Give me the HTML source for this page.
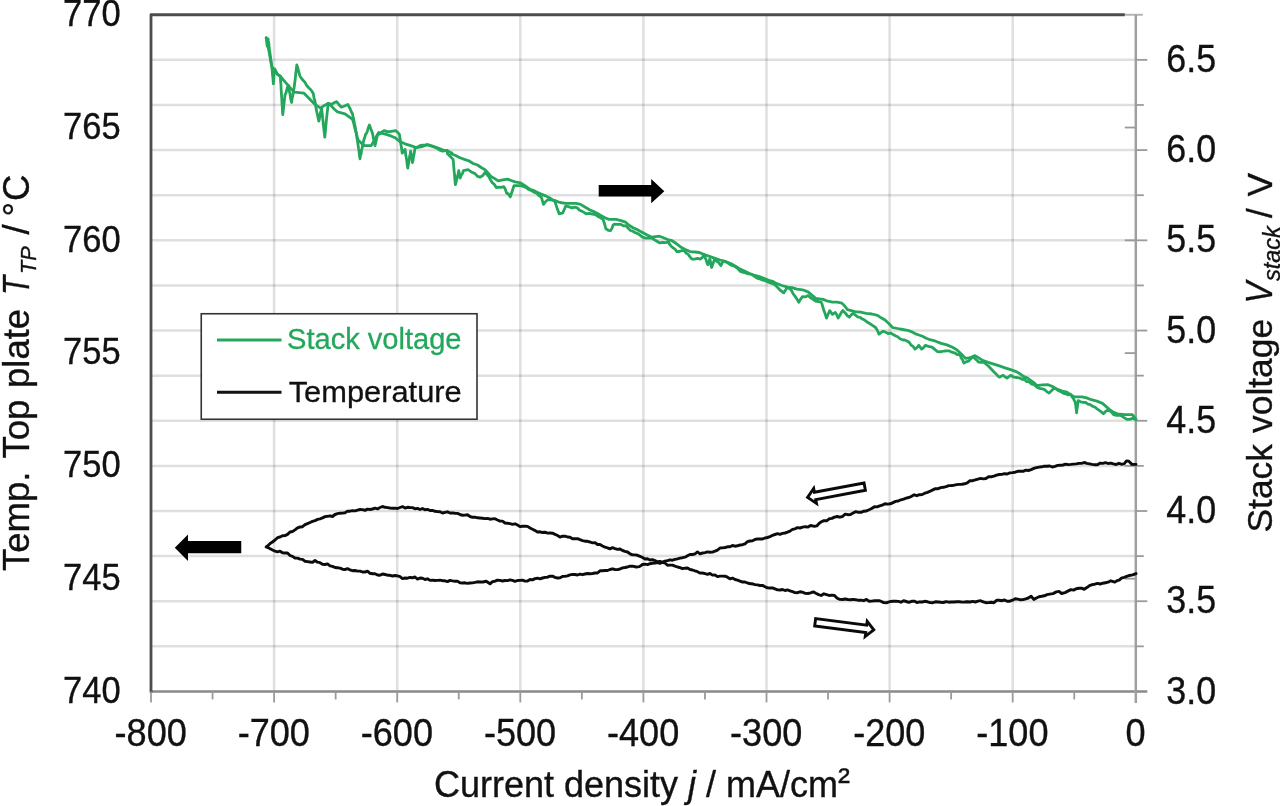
<!DOCTYPE html>
<html lang="en"><head><meta charset="utf-8"><title>Stack voltage and temperature vs current density</title>
<style>html,body{margin:0;padding:0;background:#fff;}body{width:1280px;height:806px;overflow:hidden;}svg{display:block;filter:blur(0.45px);}</style>
</head><body>
<svg width="1280" height="806" viewBox="0 0 1280 806">
<rect width="1280" height="806" fill="#fff"/>
<g stroke="#000" stroke-opacity="0.125" stroke-width="2.5" fill="none">
<line x1="151.0" y1="59.86" x2="1135.8" y2="59.86"/>
<line x1="151.0" y1="104.98" x2="1135.8" y2="104.98"/>
<line x1="151.0" y1="150.09" x2="1135.8" y2="150.09"/>
<line x1="151.0" y1="195.20" x2="1135.8" y2="195.20"/>
<line x1="151.0" y1="240.32" x2="1135.8" y2="240.32"/>
<line x1="151.0" y1="285.43" x2="1135.8" y2="285.43"/>
<line x1="151.0" y1="330.54" x2="1135.8" y2="330.54"/>
<line x1="151.0" y1="375.66" x2="1135.8" y2="375.66"/>
<line x1="151.0" y1="420.77" x2="1135.8" y2="420.77"/>
<line x1="151.0" y1="465.88" x2="1135.8" y2="465.88"/>
<line x1="151.0" y1="511.00" x2="1135.8" y2="511.00"/>
<line x1="151.0" y1="556.11" x2="1135.8" y2="556.11"/>
<line x1="151.0" y1="601.22" x2="1135.8" y2="601.22"/>
<line x1="151.0" y1="646.34" x2="1135.8" y2="646.34"/>
<line x1="274.10" y1="14.75" x2="274.10" y2="691.45"/>
<line x1="397.20" y1="14.75" x2="397.20" y2="691.45"/>
<line x1="520.30" y1="14.75" x2="520.30" y2="691.45"/>
<line x1="643.40" y1="14.75" x2="643.40" y2="691.45"/>
<line x1="766.50" y1="14.75" x2="766.50" y2="691.45"/>
<line x1="889.60" y1="14.75" x2="889.60" y2="691.45"/>
<line x1="1012.70" y1="14.75" x2="1012.70" y2="691.45"/>
</g>
<line x1="1124.8" y1="14.75" x2="1142.8" y2="14.75" stroke="#b4b4b4" stroke-width="2"/>
<line x1="150.0" y1="691.45" x2="1147.3" y2="691.45" stroke="#8a8a8a" stroke-width="2.4"/>
<line x1="1135.8" y1="14.75" x2="1135.8" y2="702.95" stroke="#a0a0a0" stroke-width="2.5"/>
<path d="M151.0,692.6500000000001 L151.0,14.75 L1124.8,14.75" fill="none" stroke="#4c4c4c" stroke-width="2.8" stroke-linejoin="round"/>
<g stroke="#9a9a9a" stroke-width="1.8">
<line x1="151.00" y1="691.45" x2="151.00" y2="702.45"/>
<line x1="212.55" y1="691.45" x2="212.55" y2="699.45"/>
<line x1="274.10" y1="691.45" x2="274.10" y2="702.45"/>
<line x1="335.65" y1="691.45" x2="335.65" y2="699.45"/>
<line x1="397.20" y1="691.45" x2="397.20" y2="702.45"/>
<line x1="458.75" y1="691.45" x2="458.75" y2="699.45"/>
<line x1="520.30" y1="691.45" x2="520.30" y2="702.45"/>
<line x1="581.85" y1="691.45" x2="581.85" y2="699.45"/>
<line x1="643.40" y1="691.45" x2="643.40" y2="702.45"/>
<line x1="704.95" y1="691.45" x2="704.95" y2="699.45"/>
<line x1="766.50" y1="691.45" x2="766.50" y2="702.45"/>
<line x1="828.05" y1="691.45" x2="828.05" y2="699.45"/>
<line x1="889.60" y1="691.45" x2="889.60" y2="702.45"/>
<line x1="951.15" y1="691.45" x2="951.15" y2="699.45"/>
<line x1="1012.70" y1="691.45" x2="1012.70" y2="702.45"/>
<line x1="1074.25" y1="691.45" x2="1074.25" y2="699.45"/>
<line x1="1135.8" y1="59.86" x2="1147.3" y2="59.86"/>
<line x1="1135.8" y1="104.98" x2="1143.8" y2="104.98"/>
<line x1="1135.8" y1="150.09" x2="1147.3" y2="150.09"/>
<line x1="1135.8" y1="195.20" x2="1143.8" y2="195.20"/>
<line x1="1135.8" y1="240.32" x2="1147.3" y2="240.32"/>
<line x1="1135.8" y1="285.43" x2="1143.8" y2="285.43"/>
<line x1="1135.8" y1="330.54" x2="1147.3" y2="330.54"/>
<line x1="1135.8" y1="375.66" x2="1143.8" y2="375.66"/>
<line x1="1135.8" y1="420.77" x2="1147.3" y2="420.77"/>
<line x1="1135.8" y1="465.88" x2="1143.8" y2="465.88"/>
<line x1="1135.8" y1="511.00" x2="1147.3" y2="511.00"/>
<line x1="1135.8" y1="556.11" x2="1143.8" y2="556.11"/>
<line x1="1135.8" y1="601.22" x2="1147.3" y2="601.22"/>
<line x1="1135.8" y1="646.34" x2="1143.8" y2="646.34"/>
<line x1="1124.8" y1="127.53" x2="1135.8" y2="127.53"/>
<line x1="1124.8" y1="240.32" x2="1135.8" y2="240.32"/>
<line x1="1124.8" y1="353.10" x2="1135.8" y2="353.10"/>
<line x1="1124.8" y1="465.88" x2="1135.8" y2="465.88"/>
<line x1="1124.8" y1="578.67" x2="1135.8" y2="578.67"/>
</g>
<path d="M1136.0,464.4 L1132.0,464.4 L1128.8,461.2 L1126.5,460.9 L1124.1,463.9 L1121.4,464.2 L1118.8,463.3 L1116.1,464.5 L1113.4,463.9 L1110.8,463.1 L1108.1,463.5 L1105.5,462.6 L1102.8,463.4 L1100.2,463.1 L1097.5,464.7 L1094.8,464.7 L1092.2,464.4 L1089.5,463.9 L1086.9,463.4 L1084.2,462.5 L1081.6,463.4 L1078.9,463.4 L1076.2,463.9 L1073.6,464.1 L1070.9,464.4 L1068.3,464.6 L1065.6,464.2 L1063.0,465.0 L1060.3,465.2 L1057.7,465.4 L1055.0,466.4 L1052.3,467.0 L1049.7,466.0 L1047.0,466.2 L1044.4,466.1 L1041.7,466.8 L1039.1,467.1 L1036.4,467.6 L1033.8,468.4 L1031.1,469.6 L1028.4,470.5 L1025.8,470.1 L1023.1,471.3 L1020.5,471.1 L1017.8,471.3 L1015.2,472.2 L1012.5,472.6 L1009.8,472.9 L1007.2,474.0 L1004.5,473.7 L1001.9,474.4 L999.2,474.5 L996.6,475.1 L993.9,476.1 L991.2,476.8 L988.6,476.8 L985.9,478.5 L983.3,478.9 L980.6,478.4 L978.0,479.1 L975.3,479.8 L972.7,480.7 L970.0,480.6 L967.3,482.9 L964.7,483.8 L962.0,484.3 L959.4,484.4 L956.7,484.6 L954.1,485.2 L951.4,485.5 L948.8,485.6 L946.1,486.6 L943.4,487.3 L940.8,487.6 L938.1,488.7 L935.5,488.6 L932.8,489.9 L930.2,491.2 L927.5,492.3 L924.8,493.2 L922.2,494.5 L919.5,494.7 L916.9,495.7 L914.2,494.8 L911.6,496.3 L908.9,497.5 L906.2,498.2 L903.6,499.1 L900.9,499.8 L898.3,501.0 L895.6,501.4 L893.0,502.6 L890.3,503.8 L887.7,504.1 L885.0,503.8 L882.3,505.1 L879.7,505.9 L877.0,506.9 L874.4,506.7 L871.7,508.5 L869.1,509.7 L866.4,511.0 L863.8,511.2 L861.1,512.3 L858.4,512.3 L855.8,511.6 L853.1,513.0 L850.5,514.5 L847.8,514.7 L845.2,514.1 L842.5,516.5 L839.8,517.2 L837.2,516.5 L834.5,517.1 L831.9,518.4 L829.2,518.8 L826.6,520.8 L823.9,520.7 L821.2,521.8 L819.0,523.5 L816.8,525.9 L814.6,526.3 L810.6,525.5 L808.0,527.1 L805.3,526.7 L802.7,527.2 L800.0,528.0 L797.5,527.6 L795.0,528.8 L792.5,529.4 L790.0,531.1 L787.5,532.2 L785.0,533.0 L782.5,533.4 L780.0,534.3 L777.5,533.7 L775.0,534.5 L772.5,535.3 L770.0,536.7 L767.5,537.5 L765.0,538.0 L762.5,539.0 L760.0,539.0 L757.5,538.9 L755.0,539.5 L752.5,540.8 L750.0,541.0 L747.5,541.7 L745.0,543.8 L742.5,544.7 L740.0,545.0 L737.5,545.8 L735.0,546.2 L732.5,545.5 L730.0,546.7 L727.5,546.8 L725.0,547.5 L722.5,547.9 L720.0,548.0 L717.5,550.1 L715.0,551.2 L712.5,552.1 L710.0,552.2 L707.5,551.9 L705.0,552.6 L702.5,553.0 L700.0,553.8 L697.5,551.9 L695.0,553.8 L692.5,554.5 L690.0,554.5 L687.5,555.8 L685.0,557.2 L682.5,557.7 L680.0,558.1 L677.5,558.8 L675.0,559.4 L672.5,560.2 L670.0,559.9 L667.5,560.7 L665.0,561.2 L662.5,562.2 L660.0,563.3 L657.5,562.5 L655.0,563.0 L652.5,563.3 L650.0,563.7 L647.5,564.7 L645.0,564.2 L642.5,564.5 L639.4,566.6 L636.2,567.0 L632.5,566.2 L630.0,566.1 L627.5,567.0 L625.0,567.5 L622.5,567.9 L620.0,569.0 L617.5,569.6 L615.0,569.5 L612.5,568.8 L610.0,569.5 L607.5,570.5 L605.0,570.5 L602.5,570.7 L600.0,570.8 L597.5,573.0 L595.0,573.0 L592.5,573.5 L590.0,573.8 L587.5,573.5 L585.0,574.0 L582.5,574.7 L580.0,574.1 L577.5,575.0 L575.0,574.5 L572.5,574.4 L570.0,574.9 L567.5,575.9 L565.0,576.2 L562.5,576.4 L560.0,577.8 L557.5,578.0 L555.0,577.3 L552.5,576.2 L550.0,576.1 L547.5,577.2 L545.0,577.4 L542.5,578.0 L540.0,578.8 L537.5,578.2 L535.0,578.6 L532.5,579.9 L530.0,579.5 L527.5,581.0 L525.0,581.1 L522.5,580.1 L520.0,580.4 L517.5,580.5 L515.0,581.4 L512.5,580.4 L510.0,579.9 L507.5,580.6 L505.0,580.5 L502.5,581.0 L500.0,580.4 L497.5,580.1 L495.0,581.2 L492.5,581.6 L490.0,583.8 L486.2,581.2 L483.1,582.0 L480.0,582.0 L477.5,581.8 L475.0,582.4 L472.5,582.9 L470.0,583.0 L467.5,583.4 L465.0,582.8 L462.5,583.0 L460.0,582.7 L457.5,581.3 L455.0,581.2 L452.5,580.9 L450.0,580.4 L447.5,581.6 L445.0,580.8 L442.5,580.7 L440.0,580.2 L437.5,580.4 L435.0,580.5 L432.5,580.1 L430.0,580.4 L427.5,578.8 L425.0,579.5 L422.5,578.3 L420.0,578.0 L417.5,579.1 L415.0,577.0 L412.5,577.8 L410.0,577.4 L407.5,578.2 L405.0,578.0 L402.5,578.6 L400.0,576.6 L397.5,575.9 L395.0,575.5 L392.5,576.0 L390.0,575.3 L387.5,575.2 L385.0,574.5 L382.5,574.0 L380.0,575.3 L377.5,575.0 L375.0,573.8 L372.5,573.7 L370.0,573.3 L367.5,571.2 L365.0,572.0 L362.5,572.0 L360.0,571.1 L357.5,571.1 L355.0,570.5 L352.5,570.7 L350.0,569.8 L347.5,568.7 L345.0,569.5 L342.5,569.2 L340.0,568.1 L337.5,567.8 L335.0,567.5 L332.5,566.4 L330.0,565.8 L327.5,563.9 L325.0,564.5 L322.5,564.2 L320.0,562.7 L317.5,562.2 L315.0,560.5 L312.5,562.4 L310.0,562.0 L307.5,561.6 L305.0,561.2 L302.5,559.4 L300.0,559.1 L297.5,558.1 L295.0,558.0 L292.5,556.4 L290.0,555.5 L287.5,553.0 L285.0,553.0 L282.5,552.8 L280.0,551.2 L277.5,551.9 L275.0,551.2 L272.1,549.8 L269.2,548.2 L266.2,547.0 L268.3,545.3 L270.4,543.3 L272.5,542.0 L275.0,540.0 L277.5,537.7 L280.0,537.0 L282.5,535.7 L285.0,535.6 L287.5,534.4 L290.0,532.0 L292.5,531.5 L295.0,529.9 L297.5,527.8 L300.0,527.0 L302.5,526.7 L305.0,524.7 L307.5,523.6 L310.0,522.5 L312.5,521.4 L315.0,520.7 L317.5,519.4 L320.0,518.8 L322.5,517.9 L325.0,516.6 L327.5,516.3 L330.0,515.8 L332.5,516.5 L335.0,514.5 L337.5,513.7 L340.0,513.2 L342.5,513.1 L345.0,512.7 L347.5,511.1 L350.0,511.2 L352.5,510.7 L355.0,510.9 L357.5,510.1 L360.0,509.5 L362.5,509.6 L365.0,510.4 L367.5,509.1 L370.0,509.5 L372.5,509.0 L375.0,508.2 L377.5,508.9 L380.0,507.5 L382.5,506.5 L385.0,507.3 L387.5,507.6 L390.0,508.0 L392.5,508.3 L395.0,508.1 L397.5,508.5 L400.0,507.5 L402.5,506.6 L405.0,508.0 L407.5,507.3 L410.0,507.5 L412.5,507.6 L415.0,508.8 L417.5,508.4 L420.0,509.5 L422.5,508.5 L425.0,509.8 L427.5,509.4 L430.0,510.5 L432.5,510.4 L435.0,511.3 L437.5,511.6 L440.0,511.8 L442.5,513.0 L445.0,512.3 L447.5,511.8 L450.0,513.0 L452.5,512.9 L455.0,513.2 L457.5,513.4 L460.0,514.5 L462.5,515.3 L465.0,515.1 L467.5,514.8 L470.0,516.5 L472.5,517.3 L475.0,517.2 L477.5,517.8 L480.0,518.0 L482.5,518.2 L485.0,518.6 L487.5,518.4 L490.0,519.2 L492.5,518.9 L495.0,518.8 L497.5,520.0 L500.0,521.1 L502.5,521.1 L505.0,523.0 L507.5,523.3 L510.0,523.6 L512.5,524.3 L515.0,523.8 L517.5,525.0 L520.0,526.6 L522.5,526.3 L525.0,526.1 L527.5,526.4 L530.0,528.0 L532.5,529.2 L535.0,530.6 L537.5,532.0 L540.0,531.8 L542.5,532.5 L545.0,532.2 L547.5,533.1 L550.0,533.0 L552.5,533.2 L555.0,534.3 L557.5,535.5 L560.0,537.1 L562.5,536.2 L565.0,536.1 L567.5,537.0 L570.0,537.2 L572.5,538.7 L575.0,538.8 L577.5,538.7 L580.0,539.7 L582.5,540.6 L585.0,541.2 L587.5,541.3 L590.0,542.0 L592.5,542.9 L595.0,542.6 L597.5,544.5 L600.0,544.5 L602.5,546.0 L605.0,547.1 L607.5,547.8 L610.0,548.8 L612.5,547.7 L615.0,548.6 L617.5,549.4 L620.0,549.0 L622.5,550.5 L625.0,551.3 L627.5,552.0 L630.0,553.8 L632.5,554.9 L635.0,554.9 L637.5,555.3 L640.0,556.3 L642.5,557.5 L645.0,559.0 L647.5,558.8 L650.0,560.0 L652.5,559.6 L655.0,560.5 L657.5,561.7 L660.0,561.4 L662.5,562.3 L665.0,563.0 L667.5,565.3 L670.0,565.1 L672.5,565.1 L675.0,566.1 L677.5,567.0 L680.0,567.7 L682.5,568.7 L685.0,568.2 L687.5,568.0 L690.0,569.5 L692.5,570.0 L695.0,570.9 L697.5,571.7 L700.0,573.1 L702.5,573.0 L705.0,573.6 L707.5,574.3 L710.0,573.5 L712.5,575.1 L715.0,575.0 L717.5,576.6 L720.0,576.1 L722.5,576.1 L725.0,576.2 L727.5,577.2 L730.0,578.9 L732.5,578.1 L735.0,579.5 L737.5,580.1 L740.0,581.2 L742.5,582.0 L745.0,582.0 L747.5,583.0 L750.0,583.7 L752.5,583.8 L755.0,584.6 L757.5,584.9 L760.0,585.5 L762.5,585.4 L765.0,586.7 L767.5,587.9 L770.0,588.0 L772.5,587.9 L775.0,588.9 L777.5,589.9 L780.0,590.0 L782.5,589.5 L785.0,590.5 L787.5,589.9 L790.0,590.8 L792.5,591.7 L795.0,592.6 L797.5,592.7 L800.0,591.8 L802.7,592.2 L805.3,593.4 L808.0,593.5 L810.6,592.8 L813.3,591.9 L815.9,593.3 L818.6,594.6 L821.2,595.5 L823.9,593.8 L826.6,594.6 L829.2,595.5 L831.9,595.1 L834.5,595.4 L837.2,598.2 L839.8,599.4 L842.5,599.5 L845.2,599.0 L847.8,599.5 L850.5,599.8 L853.1,599.4 L855.8,599.7 L858.4,600.3 L861.1,600.1 L863.8,600.7 L866.4,599.4 L869.1,601.2 L871.7,601.1 L874.4,600.8 L877.0,600.7 L879.7,600.7 L883.7,602.6 L887.0,602.7 L890.3,601.5 L893.0,601.2 L895.6,601.1 L898.3,601.4 L900.9,602.2 L903.6,600.7 L906.2,601.5 L908.9,602.3 L911.6,601.3 L914.2,601.1 L916.9,602.6 L919.5,601.9 L922.2,602.0 L924.8,601.3 L927.5,601.8 L930.2,602.6 L932.8,602.7 L935.5,601.8 L938.1,602.0 L940.8,602.3 L943.4,602.5 L946.1,601.6 L948.8,602.2 L951.4,602.0 L954.1,602.0 L956.7,601.7 L959.4,601.7 L962.0,602.1 L964.7,602.0 L967.3,601.7 L970.0,602.0 L972.7,601.4 L975.3,602.0 L978.0,601.2 L980.6,600.7 L983.3,601.9 L985.9,602.7 L988.6,602.6 L991.2,602.3 L993.9,602.7 L996.6,600.3 L999.2,600.2 L1001.9,600.7 L1004.5,600.0 L1007.2,601.3 L1009.8,601.2 L1012.5,600.2 L1015.2,598.7 L1017.8,599.1 L1020.5,599.8 L1023.1,599.6 L1025.8,598.8 L1028.4,598.0 L1031.1,596.2 L1033.8,599.4 L1036.4,598.0 L1039.1,596.7 L1041.7,596.3 L1044.4,595.8 L1047.0,594.7 L1049.7,594.1 L1053.0,593.6 L1056.3,591.9 L1059.0,591.4 L1061.6,593.5 L1065.0,592.6 L1068.3,590.9 L1070.9,589.6 L1073.6,590.1 L1076.2,588.7 L1078.9,588.2 L1081.6,588.2 L1084.2,589.3 L1086.9,587.6 L1089.5,585.6 L1092.2,584.6 L1094.8,584.2 L1097.5,583.4 L1100.2,584.0 L1102.8,583.2 L1105.5,582.7 L1108.1,582.2 L1110.8,580.8 L1114.8,582.1 L1117.0,580.7 L1119.2,580.1 L1121.4,578.1 L1124.1,577.3 L1126.7,576.3 L1129.4,575.5 L1132.7,574.9 L1136.0,573.6" fill="none" stroke="#0c0c0c" stroke-width="2.9" stroke-linejoin="round" stroke-linecap="round"/>
<path d="M266.2,37.8 L267.2,41.9 L268.1,46.9 L269.1,51.9 L270.0,56.9 L270.9,62.0 L271.9,66.9 L274.7,70.6 L277.5,74.4 L280.3,76.2 L285.0,81.9 L288.1,85.2 L291.2,89.1 L294.4,92.2 L299.1,92.7 L303.8,93.1 L309.4,98.8 L315.0,104.4 L320.6,108.1 L324.4,105.4 L328.1,103.4 L331.2,105.9 L334.4,109.3 L337.5,111.9 L345.0,113.8 L348.8,116.7 L352.5,119.4 L353.6,122.8 L354.8,128.1 L355.9,132.0 L357.0,136.3 L358.1,140.0 L363.8,145.6 L371.2,145.6 L373.8,141.1 L376.2,136.8 L378.8,132.5 L386.2,134.4 L390.9,135.9 L395.6,138.1 L400.3,141.8 L405.0,143.8 L410.6,145.6 L416.2,147.5 L421.9,146.6 L427.5,144.7 L433.1,146.3 L438.8,148.4 L443.1,150.1 L447.5,151.0 L451.9,153.1 L451.2,153.8 L455.6,155.5 L460.0,157.8 L464.4,159.4 L468.8,160.8 L473.1,163.5 L477.5,165.0 L481.2,167.5 L485.0,169.7 L487.8,172.6 L490.6,176.2 L494.4,178.4 L498.1,180.9 L502.8,179.8 L507.5,179.1 L511.2,180.5 L515.0,181.9 L520.6,182.8 L525.3,185.9 L530.0,189.4 L533.8,190.6 L537.5,192.4 L541.2,194.1 L545.0,195.6 L548.8,197.4 L552.5,199.7 L556.2,201.1 L560.0,202.5 L565.6,203.3 L571.2,203.4 L575.9,203.4 L580.6,204.4 L585.3,207.2 L590.0,210.0 L593.8,211.6 L597.5,213.4 L601.2,215.6 L605.0,217.8 L608.8,219.4 L616.2,219.4 L620.9,220.6 L625.6,222.2 L629.4,225.5 L633.1,227.8 L637.8,229.9 L642.5,232.5 L647.2,235.0 L651.9,237.2 L659.4,236.2 L664.1,238.0 L668.8,240.0 L671.2,240.3 L675.9,243.3 L680.6,246.9 L685.3,249.4 L690.0,251.6 L694.7,252.0 L699.4,252.5 L704.1,254.6 L708.8,256.2 L714.4,258.1 L720.0,260.0 L725.6,261.5 L731.2,263.8 L735.9,266.5 L740.6,269.4 L745.0,271.3 L749.4,273.5 L753.8,275.0 L759.4,276.6 L765.0,278.8 L768.8,280.3 L772.5,281.3 L776.2,283.4 L781.9,285.5 L787.5,287.2 L792.2,287.7 L796.9,289.1 L802.5,289.8 L808.1,291.9 L811.9,295.1 L815.6,298.4 L823.1,299.4 L827.8,301.2 L832.5,302.2 L837.2,302.1 L841.9,303.1 L844.7,306.0 L847.5,309.7 L855.0,311.6 L860.6,312.2 L866.2,313.4 L871.9,314.0 L877.5,315.3 L881.2,317.8 L885.0,320.0 L888.8,323.5 L892.5,327.5 L900.0,329.0 L907.5,330.3 L911.2,331.6 L915.0,333.6 L918.8,335.0 L922.5,336.3 L926.2,338.3 L930.0,339.7 L935.6,341.2 L941.2,343.4 L946.9,344.9 L952.5,347.2 L956.2,349.4 L960.0,352.8 L965.6,358.4 L970.3,357.7 L975.0,355.6 L978.8,357.9 L982.5,360.3 L988.1,362.3 L993.8,364.1 L999.4,365.9 L1005.0,367.8 L1010.6,369.7 L1016.2,371.6 L1020.0,373.8 L1023.8,376.6 L1027.5,378.1 L1030.6,380.3 L1033.8,382.6 L1036.9,385.6 L1042.5,384.8 L1048.1,384.7 L1052.8,386.6 L1057.5,389.4 L1062.2,391.0 L1066.9,392.2 L1070.6,394.8 L1074.4,396.9 L1081.9,396.9 L1086.6,397.9 L1091.2,399.7 L1096.9,401.1 L1102.5,403.4 L1106.2,406.6 L1110.0,410.0 L1113.8,412.4 L1117.5,413.8 L1125.0,414.7 L1132.5,414.7 L1135.9,419.4" fill="none" stroke="#24a75c" stroke-width="2.8" stroke-linejoin="round" stroke-linecap="round"/>
<path d="M266.2,37.8 L266.6,40.6 L266.9,43.6 L267.2,46.2 L267.5,43.6 L267.8,40.8 L268.1,38.8 L268.4,41.0 L268.8,43.3 L269.1,46.3 L269.4,49.4 L269.7,51.0 L270.0,53.8 L270.4,56.1 L270.8,59.2 L271.1,61.8 L271.5,64.3 L271.9,66.9 L272.1,69.2 L272.4,72.5 L272.6,75.7 L272.9,77.5 L273.1,80.7 L273.4,83.8 L273.6,80.3 L273.8,78.1 L274.0,75.3 L274.2,73.6 L274.5,70.6 L274.7,68.8 L276.1,71.7 L277.5,74.4 L280.3,76.2 L280.5,78.9 L280.6,81.3 L280.8,82.7 L281.0,86.2 L281.1,89.0 L281.3,91.7 L281.4,93.4 L281.6,96.5 L281.8,98.8 L281.9,101.5 L282.1,105.0 L282.3,106.6 L282.4,109.5 L282.6,112.6 L282.8,114.7 L283.1,111.6 L283.4,109.0 L283.7,106.3 L284.0,103.5 L284.4,100.0 L284.7,97.9 L285.0,95.0 L286.1,92.6 L287.2,88.0 L288.4,85.6 L288.9,88.9 L289.4,91.3 L290.0,93.7 L290.5,97.9 L291.0,100.1 L291.6,102.5 L292.0,99.1 L292.5,96.9 L293.0,94.4 L293.4,91.2 L293.9,88.8 L294.4,85.6 L294.7,83.0 L295.0,80.8 L295.3,78.6 L295.6,75.0 L295.9,72.8 L296.2,69.9 L296.5,67.6 L296.8,65.0 L297.6,67.2 L298.4,70.3 L299.2,73.3 L300.0,76.2 L302.3,79.5 L304.7,81.9 L306.6,85.3 L308.4,87.5 L310.8,89.7 L313.1,93.1 L313.6,95.3 L314.1,98.6 L314.7,99.8 L315.2,103.1 L315.7,105.9 L316.2,109.1 L316.7,111.4 L317.2,113.4 L317.7,116.0 L318.2,118.6 L318.8,121.2 L319.3,119.4 L319.9,115.8 L320.4,113.2 L321.0,110.9 L321.6,108.1 L321.9,110.7 L322.1,113.3 L322.4,115.5 L322.7,118.7 L323.0,121.1 L323.3,124.6 L323.6,126.9 L323.9,129.2 L324.2,132.2 L324.5,134.4 L324.8,137.2 L325.0,135.1 L325.3,132.0 L325.5,129.7 L325.8,126.2 L326.0,124.4 L326.3,120.8 L326.6,118.0 L326.8,116.3 L327.1,113.4 L327.3,111.3 L327.6,109.8 L327.9,105.6 L328.1,103.4 L331.9,104.4 L334.2,102.7 L336.6,101.6 L338.9,104.5 L341.2,107.2 L344.5,106.0 L347.8,104.4 L349.0,106.6 L350.2,109.0 L351.3,111.8 L352.5,113.8 L353.0,116.7 L353.6,118.6 L354.1,121.7 L354.6,124.5 L355.2,126.6 L355.7,130.0 L356.2,132.5 L356.6,134.7 L357.0,138.2 L357.4,140.5 L357.8,143.0 L358.1,145.3 L358.5,148.2 L358.9,149.9 L359.2,152.9 L359.6,156.3 L360.0,158.8 L360.5,155.0 L361.1,153.8 L361.6,149.8 L362.1,148.4 L362.7,144.9 L363.2,143.1 L363.8,140.0 L364.7,137.6 L365.6,134.2 L366.6,133.1 L367.5,130.7 L368.4,127.5 L369.4,125.0 L370.3,127.4 L371.2,129.9 L372.2,132.5 L372.8,134.6 L373.3,138.3 L373.9,140.1 L374.4,143.0 L375.0,145.6 L375.7,142.4 L376.4,139.7 L377.1,136.5 L377.8,134.4 L380.0,133.8 L382.2,131.8 L384.4,130.6 L387.2,131.6 L390.0,131.6 L392.8,131.1 L395.6,130.6 L397.5,132.2 L399.4,134.4 L399.8,136.9 L400.2,139.5 L400.6,142.4 L401.0,144.9 L401.4,147.6 L401.8,149.8 L402.2,153.1 L405.0,149.4 L405.4,151.7 L405.8,155.6 L406.2,157.1 L406.6,159.6 L407.0,162.9 L407.4,166.2 L407.8,168.1 L408.3,164.6 L408.8,162.4 L409.2,159.4 L409.7,156.0 L410.2,154.4 L410.6,151.2 L411.1,154.1 L411.6,156.9 L412.0,159.3 L412.5,162.5 L413.0,160.2 L413.4,157.2 L413.9,154.9 L414.4,151.9 L414.8,149.4 L415.3,147.5 L417.7,147.2 L420.0,145.6 L422.5,145.1 L425.0,145.1 L427.5,144.7 L430.0,145.6 L432.5,146.3 L435.0,147.5 L437.5,148.5 L440.0,150.3 L442.5,151.2 L447.2,150.3 L447.5,153.8 L449.4,155.5 L451.2,157.4 L453.1,159.4 L453.4,161.9 L453.6,165.0 L453.8,167.3 L454.0,169.7 L454.2,171.7 L454.5,173.9 L454.7,177.6 L454.9,180.1 L455.1,182.1 L455.4,184.7 L456.1,182.1 L456.7,179.5 L457.4,176.7 L458.1,173.9 L458.8,170.6 L459.2,172.9 L459.8,176.4 L460.2,178.1 L461.3,175.0 L462.4,173.6 L463.4,170.6 L468.1,169.7 L470.3,171.2 L472.5,172.6 L474.7,173.4 L477.5,176.3 L480.3,177.2 L482.7,175.6 L485.0,172.5 L486.9,174.4 L488.8,176.7 L490.6,180.0 L492.5,182.9 L494.4,184.5 L496.2,187.5 L498.8,187.2 L501.2,187.3 L503.8,186.6 L505.2,189.0 L506.6,193.1 L508.4,193.9 L510.3,196.9 L511.2,194.2 L512.2,191.3 L513.1,188.3 L514.1,185.6 L517.3,185.6 L520.6,185.6 L523.2,186.5 L525.9,187.5 L528.5,189.5 L531.1,190.4 L533.8,192.2 L536.2,192.9 L538.8,195.6 L541.2,196.9 L542.0,199.3 L542.8,202.1 L543.5,204.4 L545.7,201.5 L547.8,199.7 L551.1,199.8 L554.4,200.6 L555.3,202.8 L556.2,205.4 L557.2,208.6 L558.1,210.7 L559.1,213.8 L562.8,212.8 L564.2,209.7 L565.6,206.2 L568.8,206.7 L571.9,207.9 L575.0,207.2 L577.2,207.8 L579.5,210.3 L581.8,211.1 L584.0,212.4 L586.2,213.8 L589.4,213.3 L592.5,214.1 L595.6,214.7 L598.1,216.6 L600.6,217.8 L603.1,219.4 L604.1,222.5 L605.0,225.5 L605.9,228.8 L608.3,230.3 L610.6,230.6 L611.9,228.4 L613.1,225.1 L614.4,224.1 L617.5,224.3 L620.6,224.3 L623.8,225.9 L626.0,225.6 L628.2,228.3 L630.5,230.5 L632.8,231.2 L635.0,232.5 L637.5,233.5 L640.0,235.2 L642.5,237.2 L645.6,238.1 L648.8,237.9 L651.9,238.1 L654.4,239.7 L656.9,241.2 L659.4,242.8 L662.5,242.5 L665.6,242.6 L668.8,241.9 L669.4,244.1 L671.2,246.2 L673.1,247.9 L675.0,249.2 L676.9,251.6 L679.4,251.5 L681.9,250.6 L684.4,250.6 L686.2,253.3 L688.1,254.2 L690.0,256.9 L691.9,259.1 L694.7,259.1 L697.5,258.4 L700.3,259.1 L702.2,257.6 L704.1,254.4 L705.0,257.7 L705.9,259.3 L706.9,262.5 L707.8,264.7 L708.8,262.1 L709.7,259.1 L710.3,260.6 L710.9,264.8 L711.6,267.5 L712.5,265.0 L713.4,262.5 L714.4,260.0 L718.1,261.9 L720.9,265.6 L722.3,262.7 L723.8,260.9 L726.0,261.9 L728.2,263.1 L730.5,264.9 L732.8,265.6 L735.0,266.6 L737.5,268.4 L740.0,271.1 L742.5,272.2 L745.3,272.8 L748.1,273.9 L750.9,274.1 L753.8,275.9 L756.6,277.9 L759.4,278.8 L762.2,279.9 L765.0,280.6 L767.3,281.9 L769.7,282.6 L772.0,283.5 L774.4,284.4 L776.2,286.1 L778.1,288.0 L780.0,290.0 L783.8,292.8 L785.6,290.0 L787.5,287.2 L791.2,290.0 L792.8,293.2 L794.2,295.2 L795.8,297.3 L797.2,299.5 L798.8,302.2 L800.6,299.1 L802.5,296.6 L805.3,296.9 L808.1,295.6 L810.6,297.8 L813.1,299.4 L815.6,301.2 L818.4,301.5 L821.2,302.2 L822.1,304.3 L823.0,307.5 L823.9,310.6 L824.8,312.6 L825.6,315.4 L826.5,318.1 L827.6,315.5 L828.6,313.2 L829.7,310.6 L832.5,314.4 L835.3,312.5 L836.7,314.5 L838.1,318.1 L839.7,315.5 L841.2,312.7 L842.8,310.6 L845.6,313.4 L847.5,315.8 L849.4,317.2 L851.2,314.9 L853.1,313.4 L855.5,315.1 L857.8,317.0 L860.2,317.5 L862.5,319.1 L865.0,320.3 L867.5,322.3 L870.0,323.8 L872.8,325.6 L875.6,327.5 L877.3,330.3 L879.0,334.1 L883.1,331.2 L885.6,332.1 L888.1,333.5 L890.6,333.1 L893.0,334.4 L895.3,335.8 L897.7,336.8 L900.0,338.8 L902.3,339.8 L904.7,340.0 L907.0,341.0 L909.4,342.5 L911.2,345.3 L913.1,346.4 L915.0,349.1 L916.9,347.7 L918.8,345.3 L921.6,349.1 L923.4,347.9 L925.3,345.3 L928.6,346.4 L931.9,347.2 L934.4,349.0 L936.9,351.3 L939.4,351.9 L941.9,351.5 L944.4,351.0 L946.9,350.9 L949.4,350.9 L951.9,352.2 L954.4,352.8 L957.2,354.5 L960.0,354.7 L961.2,358.0 L962.5,359.8 L963.8,363.1 L966.1,361.8 L968.4,361.2 L970.8,358.7 L973.1,356.6 L975.0,358.6 L976.9,360.2 L978.8,362.2 L981.6,362.3 L984.4,362.2 L986.2,364.2 L988.1,365.8 L990.0,367.8 L991.9,369.7 L993.8,371.7 L995.6,373.4 L997.5,375.6 L999.4,377.2 L1003.1,375.3 L1006.9,378.1 L1010.6,375.3 L1013.8,377.2 L1016.9,377.5 L1020.0,378.1 L1022.2,379.3 L1024.5,379.5 L1026.8,381.7 L1029.0,381.7 L1031.2,383.8 L1034.1,384.6 L1036.9,387.3 L1039.7,388.4 L1044.4,389.4 L1046.7,391.6 L1049.1,393.1 L1051.4,390.7 L1053.8,388.4 L1056.1,388.8 L1058.4,390.6 L1060.8,391.6 L1063.1,393.1 L1065.6,393.8 L1068.1,394.9 L1070.6,394.1 L1072.2,397.0 L1073.8,399.3 L1075.3,402.5 L1075.6,404.5 L1076.0,407.6 L1076.3,410.1 L1076.6,412.8 L1077.0,409.2 L1077.4,406.8 L1077.8,403.1 L1078.1,400.6 L1080.6,401.8 L1083.1,402.4 L1085.6,402.5 L1088.0,404.2 L1090.3,404.6 L1092.7,406.3 L1095.0,407.2 L1097.1,408.8 L1099.2,410.3 L1101.3,411.9 L1103.4,413.8 L1105.8,411.2 L1108.1,410.0 L1110.9,411.6 L1113.8,414.7 L1116.2,415.4 L1118.8,415.2 L1121.2,415.6 L1124.1,417.6 L1126.9,419.4 L1129.7,419.4 L1132.5,418.4 L1135.9,419.4" fill="none" stroke="#24a75c" stroke-width="2.8" stroke-linejoin="round" stroke-linecap="round"/>
<polygon points="598.7,184.9 651.2,184.9 651.2,179.1 664.3,191.2 651.2,203.3 651.2,196.6 598.7,196.6" fill="#000"/>
<polygon points="241.25,541.1 188,541.1 188,534.5 174.8,547.7 188,561 188,553.2 241.25,553.2" fill="#000"/>
<polygon transform="translate(805.6,497.7) rotate(-10.6)" points="2.05,0 9.65,-7.6 9.65,-3.7 60.15,-3.7 60.15,3.7 9.65,3.7 9.65,7.6" fill="#fff" stroke="#0a0a0a" stroke-width="2.9"/>
<polygon transform="translate(875.8,630.1) rotate(187.4)" points="2.05,0 9.65,-7.6 9.65,-3.7 61.15,-3.7 61.15,3.7 9.65,3.7 9.65,7.6" fill="#fff" stroke="#0a0a0a" stroke-width="2.9"/>
<rect x="201.25" y="313.75" width="275.75" height="105.5" fill="#fff" stroke="#333" stroke-width="1.6"/>
<line x1="217" y1="340" x2="281.5" y2="340" stroke="#24a75c" stroke-width="3"/>
<line x1="217" y1="392.3" x2="281.5" y2="392.3" stroke="#111" stroke-width="3"/>
<text x="287" y="349.4" font-family="Liberation Sans, Arial, Helvetica, sans-serif" font-size="29.8" fill="#24a75c" stroke="#24a75c" stroke-width="0.3" textLength="174.5" lengthAdjust="spacingAndGlyphs">Stack voltage</text>
<text x="288.7" y="401.8" font-family="Liberation Sans, Arial, Helvetica, sans-serif" font-size="29.8" fill="#111" stroke="#111" stroke-width="0.3" textLength="173" lengthAdjust="spacingAndGlyphs">Temperature</text>
<g font-family="Liberation Sans, Arial, Helvetica, sans-serif" fill="#111" stroke="#111" stroke-width="0.35">
<text transform="translate(120.6,25.9) scale(0.94,1)" text-anchor="end" font-size="36.7">770</text>
<text transform="translate(120.6,138.7) scale(0.94,1)" text-anchor="end" font-size="36.7">765</text>
<text transform="translate(120.6,251.5) scale(0.94,1)" text-anchor="end" font-size="36.7">760</text>
<text transform="translate(120.6,364.3) scale(0.94,1)" text-anchor="end" font-size="36.7">755</text>
<text transform="translate(120.6,477.1) scale(0.94,1)" text-anchor="end" font-size="36.7">750</text>
<text transform="translate(120.6,589.9) scale(0.94,1)" text-anchor="end" font-size="36.7">745</text>
<text transform="translate(120.6,702.7) scale(0.94,1)" text-anchor="end" font-size="36.7">740</text>
<text transform="translate(1166.3,72.0) scale(0.925,1)" font-size="38.8">6.5</text>
<text transform="translate(1166.3,162.2) scale(0.925,1)" font-size="38.8">6.0</text>
<text transform="translate(1166.3,252.4) scale(0.925,1)" font-size="38.8">5.5</text>
<text transform="translate(1166.3,342.6) scale(0.925,1)" font-size="38.8">5.0</text>
<text transform="translate(1166.3,432.9) scale(0.925,1)" font-size="38.8">4.5</text>
<text transform="translate(1166.3,523.1) scale(0.925,1)" font-size="38.8">4.0</text>
<text transform="translate(1166.3,613.3) scale(0.925,1)" font-size="38.8">3.5</text>
<text transform="translate(1166.3,703.6) scale(0.925,1)" font-size="38.8">3.0</text>
<text transform="translate(150.7,746.2) scale(0.95,1)" text-anchor="middle" font-size="38">-800</text>
<text transform="translate(273.8,746.2) scale(0.95,1)" text-anchor="middle" font-size="38">-700</text>
<text transform="translate(396.9,746.2) scale(0.95,1)" text-anchor="middle" font-size="38">-600</text>
<text transform="translate(520.0,746.2) scale(0.95,1)" text-anchor="middle" font-size="38">-500</text>
<text transform="translate(643.1,746.2) scale(0.95,1)" text-anchor="middle" font-size="38">-400</text>
<text transform="translate(766.2,746.2) scale(0.95,1)" text-anchor="middle" font-size="38">-300</text>
<text transform="translate(889.3,746.2) scale(0.95,1)" text-anchor="middle" font-size="38">-200</text>
<text transform="translate(1012.4,746.2) scale(0.95,1)" text-anchor="middle" font-size="38">-100</text>
<text transform="translate(1135.5,746.2) scale(0.95,1)" text-anchor="middle" font-size="38">0</text>
</g>
<text x="434" y="797" font-family="Liberation Sans, Arial, Helvetica, sans-serif" font-size="36" fill="#111" stroke="#111" stroke-width="0.35">Current density <tspan font-style="italic">j</tspan> / mA/cm<tspan dy="-4">²</tspan></text>
<text transform="rotate(-90)" font-family="Liberation Sans, Arial, Helvetica, sans-serif" font-size="36.5" fill="#111" stroke="#111" stroke-width="0.35">
<tspan x="-571.0" y="29.0" >Temp. </tspan>
<tspan x="-458.5" y="29.0" >Top </tspan>
<tspan x="-388.0" y="29.0" >plate </tspan>
<tspan x="-295.0" y="29.0" font-style="italic" textLength="19" lengthAdjust="spacingAndGlyphs">T</tspan>
<tspan x="-274.0" y="36.3" font-style="italic" font-size="21.5">TP </tspan>
<tspan x="-234.5" y="29.0" >/ </tspan>
<tspan x="-216.5" y="29.0" >°</tspan>
<tspan x="-201.0" y="29.0" >C</tspan>
</text>
<text transform="rotate(-90)" font-family="Liberation Sans, Arial, Helvetica, sans-serif" font-size="35.4" fill="#111" stroke="#111" stroke-width="0.35">
<tspan x="-532.5" y="1271.8" >Stack </tspan>
<tspan x="-433.0" y="1271.8" >voltage </tspan>
<tspan x="-303.5" y="1271.8" font-style="italic" font-size="37" textLength="21.7" lengthAdjust="spacingAndGlyphs">V</tspan>
<tspan x="-281.0" y="1280.3" font-style="italic" font-size="23.5">stack </tspan>
<tspan x="-218.0" y="1271.8" >/ </tspan>
<tspan x="-196.5" y="1271.8" >V</tspan>
</text>
</svg>
</body></html>
